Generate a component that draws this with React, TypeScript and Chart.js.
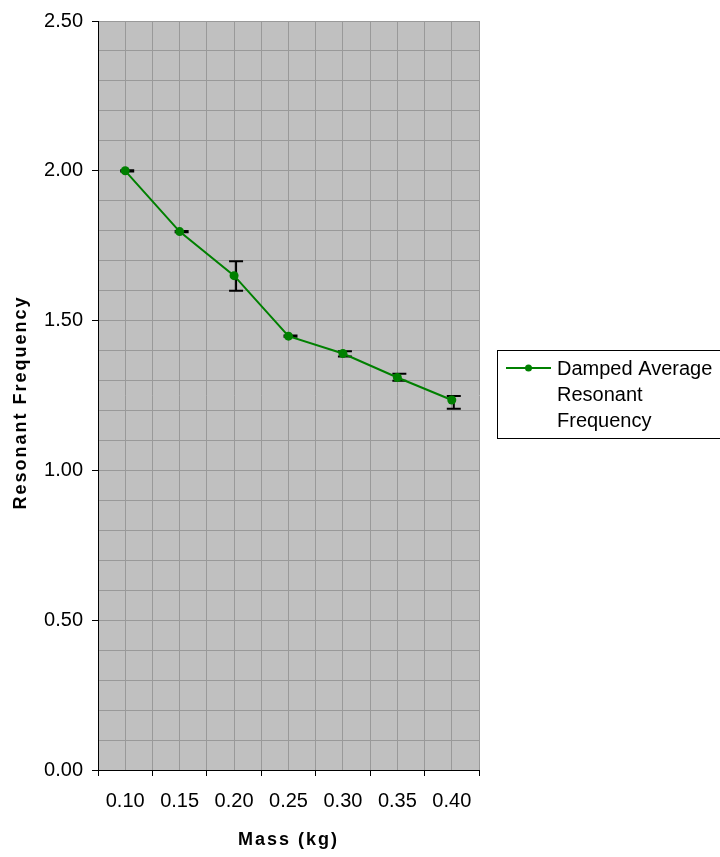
import { useEffect, useRef } from 'react';
import { Chart, registerables } from 'chart.js';

Chart.register(...registerables);

// ---- data ----
const massLabels = ['0.10', '0.15', '0.20', '0.25', '0.30', '0.35', '0.40'];
const massValues = [0.1, 0.15, 0.2, 0.25, 0.3, 0.35, 0.4];
const frequency = [2.0, 1.797, 1.65, 1.448, 1.39, 1.31, 1.235];
const errorPlus = [0.002, 0.002, 0.048, 0.002, 0.008, 0.013, 0.013];
const errorMinus = [0.002, 0.002, 0.05, 0.002, 0.01, 0.011, 0.029];
const yTickLabels = ['0.00', '0.50', '1.00', '1.50', '2.00', '2.50'];
const legendLines = ['Damped Average', 'Resonant', 'Frequency'];
const xTitle = 'Mass (kg)';
const yTitle = 'Resonant Frequency';

const FONT = '"Liberation Sans", Arial, Helvetica, sans-serif';
const GREEN = '#008000';

const plotBg = {
  id: 'plotBg',
  beforeDraw(chart: any) {
    const { ctx, chartArea: a } = chart;
    ctx.save();
    ctx.fillStyle = '#C0C0C0';
    ctx.fillRect(a.left, a.top, a.right - a.left, a.bottom - a.top);
    ctx.restore();
  },
};

const errorBars = {
  id: 'errorBars',
  beforeDatasetsDraw(chart: any) {
    const { ctx } = chart;
    const xs = chart.scales.x;
    const ys = chart.scales.y;
    ctx.save();
    ctx.strokeStyle = '#000';
    ctx.lineWidth = 2;
    massValues.forEach((m, i) => {
      const x = xs.getPixelForValue(m) + 2;
      const yt = ys.getPixelForValue(frequency[i] + errorPlus[i]);
      const yb = ys.getPixelForValue(frequency[i] - errorMinus[i]);
      ctx.beginPath();
      ctx.moveTo(x, yt);
      ctx.lineTo(x, yb);
      ctx.moveTo(x - 7, yt);
      ctx.lineTo(x + 7, yt);
      ctx.moveTo(x - 7, yb);
      ctx.lineTo(x + 7, yb);
      ctx.stroke();
    });
    ctx.restore();
  },
};

const extras = {
  id: 'extras',
  afterDraw(chart: any) {
    const { ctx, chartArea: a } = chart;
    ctx.save();
    // axis titles
    ctx.fillStyle = '#000';
    ctx.font = `bold 18px ${FONT}`;
    (ctx as any).letterSpacing = '2px';
    ctx.textAlign = 'center';
    ctx.textBaseline = 'middle';
    ctx.fillText(xTitle, (a.left + a.right) / 2, 840);
    ctx.save();
    ctx.translate(21, (a.top + a.bottom) / 2 + 7);
    ctx.rotate(-Math.PI / 2);
    ctx.fillText(yTitle, 0, 0);
    ctx.restore();
    (ctx as any).letterSpacing = '0px';

    // legend
    const lx = 497.5;
    const ly = 350.5;
    ctx.strokeStyle = '#000';
    ctx.lineWidth = 1;
    ctx.strokeRect(lx, ly, 260, 88);
    ctx.strokeStyle = GREEN;
    ctx.lineWidth = 2;
    ctx.beginPath();
    ctx.moveTo(506, 368);
    ctx.lineTo(551, 368);
    ctx.stroke();
    ctx.fillStyle = GREEN;
    ctx.beginPath();
    ctx.arc(528.5, 368, 3.5, 0, Math.PI * 2);
    ctx.fill();
    ctx.fillStyle = '#000';
    ctx.font = `20px ${FONT}`;
    ctx.textAlign = 'left';
    ctx.textBaseline = 'middle';
    legendLines.forEach((t, i) => {
      ctx.fillText(t, 557, 369 + i * 26);
    });
    ctx.restore();
  },
};

export default function App() {
  const ref = useRef<HTMLCanvasElement | null>(null);

  useEffect(() => {
    document.body.style.margin = '0';
    const canvas = ref.current;
    if (!canvas) return;
    const chart = new Chart(canvas, {
      type: 'line',
      data: {
        datasets: [
          {
            label: legendLines.join(' '),
            data: massValues.map((x, i) => ({ x, y: frequency[i] })),
            borderColor: GREEN,
            backgroundColor: GREEN,
            borderWidth: 2,
            pointRadius: 4.5,
            pointBorderWidth: 0,
            pointBackgroundColor: GREEN,
            tension: 0,
          },
        ],
      },
      options: {
        responsive: false,
        animation: false,
        layout: { padding: { left: 0, top: 20, right: 241, bottom: 0 } },
        plugins: { legend: { display: false }, tooltip: { enabled: false } },
        scales: {
          x: {
            type: 'linear',
            min: 0.075,
            max: 0.425,
            afterBuildTicks: (scale: any) => {
              scale.ticks = Array.from({ length: 15 }, (_, k) => ({ value: 0.075 + 0.025 * k }));
            },
            afterFit: (scale: any) => {
              scale.height = 87;
            },
            ticks: {
              autoSkip: false,
              maxRotation: 0,
              minRotation: 0,
              padding: 13,
              color: '#000',
              font: { family: FONT, size: 20 },
              callback: (_v: any, index: number) =>
                index % 2 === 1 ? massLabels[(index - 1) / 2] : '',
            },
            grid: {
              color: '#999',
              lineWidth: 1,
              tickLength: 6,
              tickColor: (c: any) => (c.index % 2 === 0 ? '#000' : 'rgba(0,0,0,0)'),
            },
            border: { color: '#000', width: 1 },
          },
          y: {
            type: 'linear',
            min: 0,
            max: 2.5,
            afterBuildTicks: (scale: any) => {
              scale.ticks = Array.from({ length: 26 }, (_, k) => ({ value: k / 10 }));
            },
            afterFit: (scale: any) => {
              scale.width = 98;
            },
            ticks: {
              autoSkip: false,
              padding: 9,
              color: '#000',
              font: { family: FONT, size: 20 },
              callback: (_v: any, index: number) => (index % 5 === 0 ? yTickLabels[index / 5] : ''),
            },
            grid: {
              color: '#999',
              lineWidth: 1,
              tickLength: 6,
              tickColor: (c: any) => (c.index % 5 === 0 ? '#000' : 'rgba(0,0,0,0)'),
            },
            border: { color: '#000', width: 1 },
          },
        },
      },
      plugins: [plotBg, errorBars, extras],
    });
    return () => chart.destroy();
  }, []);

  return (
    <div style={{ width: 720, height: 857 }}>
      <canvas ref={ref} width={720} height={857} />
    </div>
  );
}
